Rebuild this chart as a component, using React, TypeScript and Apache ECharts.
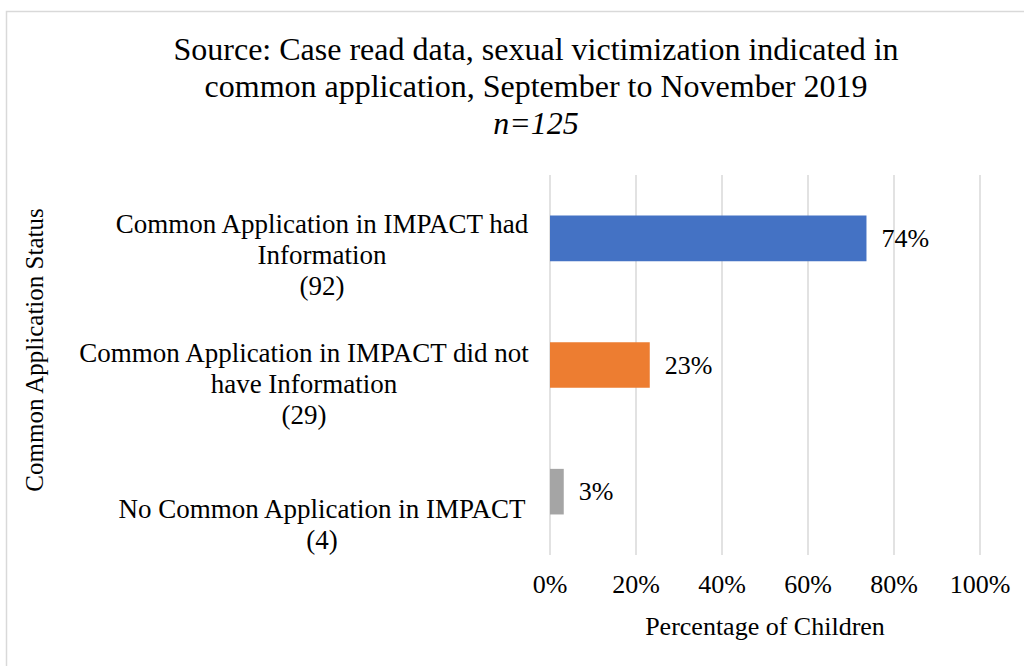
import React, { useEffect, useRef } from "react";
import * as echarts from "echarts";

const categories = [
  "No Common Application in IMPACT\n(4)",
  "Common Application in IMPACT did not\nhave Information\n(29)",
  "Common Application in IMPACT had\nInformation\n(92)",
];
const values = [3.2, 23.2, 73.6];
const barColors = ["#A5A5A5", "#ED7D31", "#4472C4"];
const labelPad = [
  [0, 0, 0, 0],
  [0, 36, 0, 0],
  [0, 0, 0, 0],
];
const labelGap = [66, 38, 34];
const xTicks = [0, 20, 40, 60, 80, 100];

const FONT = "'Liberation Serif', 'Times New Roman', serif";
const FS = 26;

export default function App() {
  const ref = useRef<HTMLDivElement>(null);
  useEffect(() => {
    const chart = echarts.init(ref.current!, undefined, { renderer: "svg" });
    const rich: Record<string, any> = {};
    labelGap.forEach((g, i) => {
      rich["g" + i] = { lineHeight: g, fontSize: 10 };
    });
    chart.setOption({
      animation: false,
      backgroundColor: "#fff",
      textStyle: { fontFamily: FONT, color: "#000" },
      graphic: [
        {
          type: "rect",
          shape: { x: 6.5, y: 11.5, width: 1100, height: 700 },
          style: { fill: "none", stroke: "#d9d9d9", lineWidth: 1.5 },
          silent: true,
        },
      ],
      title: {
        text: "Source: Case read data, sexual victimization indicated in\ncommon application, September to November 2019\n{i|n=125}",
        left: 531,
        top: 25,
        textAlign: "center",
        textStyle: {
          fontFamily: FONT,
          fontSize: 32,
          fontWeight: "normal",
          color: "#000",
          lineHeight: 37,
          rich: {
            i: { fontFamily: FONT, fontSize: 32, fontStyle: "italic", color: "#000", lineHeight: 37 },
          },
        },
      },
      grid: { left: 550, right: 44, top: 175, bottom: 111, containLabel: false, outerBoundsMode: "none" },
      xAxis: {
        type: "value",
        min: 0,
        max: 100,
        interval: 20,
        axisLabel: {
          formatter: (v: number) => (xTicks.includes(v) ? v + "%" : ""),
          fontFamily: FONT,
          fontSize: FS,
          color: "#000",
          margin: 16,
        },
        splitLine: { show: true, lineStyle: { color: "#d9d9d9", width: 1.5 } },
        axisLine: { show: false },
        axisTick: { show: false },
        name: "Percentage of Children",
        nameLocation: "middle",
        nameGap: 58,
        nameTextStyle: { fontFamily: FONT, fontSize: FS, color: "#000" },
      },
      yAxis: {
        type: "category",
        data: categories.map((c, i) => ({
          value: c,
          textStyle: { padding: labelPad[i], align: "center" },
        })),
        axisLine: { show: false },
        axisTick: { show: false },
        axisLabel: {
          align: "center",
          margin: 228,
          fontFamily: FONT,
          fontSize: 27,
          color: "#000",
          lineHeight: 31,
          interval: 0,
          formatter: (v: string, i: number) => "{g" + i + "| }\n" + v,
          rich,
        },
        name: "Common Application Status",
        nameLocation: "middle",
        nameGap: 503,
        nameRotate: 90,
        nameTextStyle: { fontFamily: FONT, fontSize: 25, color: "#000", padding: [0, 0, 0, 30] },
      },
      series: [
        {
          type: "bar",
          data: values.map((v, i) => ({ value: v, itemStyle: { color: barColors[i] } })),
          barWidth: "36%",
          label: {
            show: true,
            position: "right",
            distance: 15,
            formatter: (p: any) => Math.round(p.value) + "%",
            fontFamily: FONT,
            fontSize: FS,
            color: "#000",
          },
        },
      ],
    });
    return () => chart.dispose();
  }, []);
  return (
    <div
      ref={ref}
      style={{ position: "absolute", left: 0, top: 0, width: 1024, height: 666 }}
    />
  );
}
